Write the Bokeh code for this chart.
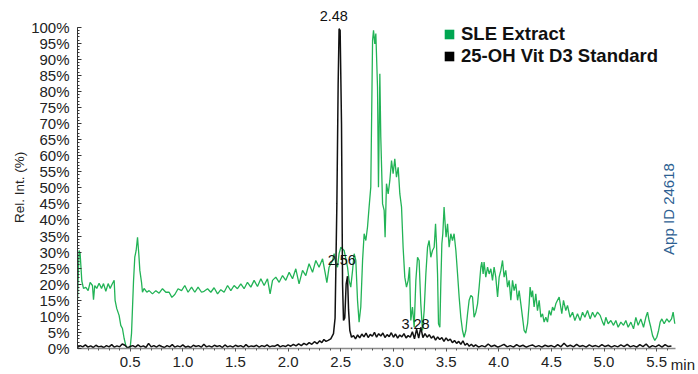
from bokeh.plotting import figure
from bokeh.models import FixedTicker, PrintfTickFormatter, Label, Legend, LegendItem, Range1d
from bokeh.embed import file_html
from bokeh.resources import INLINE

FONT = "Liberation Sans"

# SLE Extract trace (time in min, relative intensity in %)
green_t = [0.0, 0.015, 0.025, 0.041, 0.057, 0.079, 0.101, 0.120, 0.142, 0.152, 0.164, 0.183, 0.205,
           0.228, 0.247, 0.269, 0.291, 0.310, 0.332, 0.348, 0.357, 0.373, 0.395, 0.411, 0.427, 0.443,
           0.459, 0.475, 0.500, 0.513, 0.532, 0.544, 0.557, 0.570, 0.582, 0.592, 0.608, 0.617, 0.632,
           0.658, 0.680, 0.712, 0.744, 0.775, 0.807, 0.839, 0.870, 0.896, 0.924, 0.955, 0.988, 1.019,
           1.050, 1.083, 1.114, 1.145, 1.178, 1.202, 1.235, 1.266, 1.297, 1.330, 1.361, 1.392, 1.425,
           1.456, 1.487, 1.519, 1.551, 1.582, 1.614, 1.646, 1.677, 1.709, 1.741, 1.772, 1.804, 1.829,
           1.852, 1.883, 1.915, 1.947, 1.978, 2.010, 2.042, 2.073, 2.104, 2.137, 2.168, 2.199, 2.232,
           2.263, 2.294, 2.327, 2.351, 2.368, 2.389, 2.422, 2.437, 2.453, 2.469, 2.484, 2.501, 2.532,
           2.564, 2.579, 2.595, 2.612, 2.627, 2.643, 2.659, 2.674, 2.690, 2.707, 2.722, 2.738, 2.754,
           2.769, 2.785, 2.802, 2.811, 2.823, 2.833, 2.849, 2.858, 2.871, 2.880, 2.897, 2.912, 2.921,
           2.934, 2.950, 2.966, 2.982, 2.997, 3.013, 3.029, 3.045, 3.061, 3.077, 3.092, 3.108, 3.124,
           3.140, 3.153, 3.165, 3.181, 3.197, 3.213, 3.229, 3.244, 3.260, 3.276, 3.292, 3.308, 3.324,
           3.339, 3.355, 3.371, 3.387, 3.400, 3.409, 3.419, 3.428, 3.441, 3.450, 3.460, 3.469, 3.481,
           3.491, 3.500, 3.514, 3.529, 3.545, 3.561, 3.576, 3.593, 3.609, 3.624, 3.640, 3.656, 3.671,
           3.688, 3.704, 3.719, 3.735, 3.751, 3.766, 3.783, 3.799, 3.814, 3.830, 3.839, 3.852, 3.861,
           3.877, 3.894, 3.909, 3.925, 3.941, 3.956, 3.972, 3.989, 4.004, 4.020, 4.036, 4.051, 4.067,
           4.084, 4.099, 4.115, 4.131, 4.146, 4.162, 4.179, 4.194, 4.210, 4.226, 4.241, 4.257, 4.274,
           4.289, 4.298, 4.311, 4.321, 4.336, 4.352, 4.368, 4.384, 4.400, 4.416, 4.431, 4.447, 4.463,
           4.479, 4.495, 4.511, 4.526, 4.542, 4.558, 4.574, 4.599, 4.615, 4.637, 4.653, 4.678, 4.701,
           4.723, 4.748, 4.773, 4.796, 4.818, 4.843, 4.868, 4.891, 4.913, 4.938, 4.963, 4.986, 5.001,
           5.017, 5.039, 5.065, 5.090, 5.112, 5.134, 5.160, 5.185, 5.207, 5.229, 5.255, 5.280, 5.302,
           5.324, 5.349, 5.375, 5.397, 5.413, 5.428, 5.444, 5.461, 5.482, 5.501, 5.518, 5.533, 5.549,
           5.571, 5.596, 5.618, 5.641, 5.656, 5.672]
green_i = [15.0, 30.5, 29.5, 21.0, 18.7, 19.0, 18.0, 20.6, 19.6, 15.2, 19.6, 18.7, 20.3,
           18.7, 20.2, 17.8, 20.2, 18.7, 20.2, 21.2, 15.0, 12.4, 10.3, 7.2, 6.2, 3.1,
           0.9, 0.1, 0.1, 4.7, 21.0, 28.4, 30.5, 34.6, 29.5, 24.3, 20.6, 17.5, 18.7,
           17.5, 18.0, 17.0, 18.0, 17.2, 18.6, 17.5, 17.5, 15.9, 16.8, 18.6, 18.0, 19.6,
           17.5, 19.1, 17.5, 19.1, 17.5, 17.8, 18.6, 17.5, 18.9, 17.0, 18.3, 17.5, 19.6,
           18.0, 19.6, 18.6, 20.1, 18.6, 20.6, 19.1, 21.2, 19.3, 21.7, 19.6, 21.7, 17.0,
           21.2, 22.2, 20.6, 22.7, 21.2, 23.7, 21.7, 24.8, 20.1, 24.3, 22.7, 26.4, 23.7,
           27.4, 25.3, 27.9, 23.7, 20.5, 25.3, 27.4, 29.5, 26.4, 25.3, 29.5, 31.5, 30.5,
           25.3, 21.2, 19.1, 24.3, 29.5, 27.4, 15.0, 8.2, 12.9, 27.4, 35.7, 33.6, 37.8,
           44.0, 50.2, 95.9, 99.0, 94.8, 98.0, 81.3, 50.2, 85.5, 65.8, 45.0, 43.0, 34.6,
           51.3, 48.1, 52.3, 58.5, 54.4, 59.0, 53.3, 56.4, 48.1, 44.0, 31.5, 22.2, 19.1,
           21.2, 25.3, 8.7, 12.9, 6.6, 21.2, 28.4, 27.4, 13.9, 5.6, 11.8, 23.2, 31.5,
           33.6, 28.4, 30.5, 31.5, 38.8, 32.6, 23.2, 7.7, 6.6, 20.1, 32.6, 35.7, 44.0,
           38.8, 34.6, 38.8, 31.5, 35.7, 33.6, 35.7, 30.5, 23.2, 16.0, 9.7, 5.6, 3.5,
           5.6, 10.8, 15.0, 16.5, 16.0, 9.7, 11.3, 13.9, 19.1, 25.3, 26.9, 23.2, 26.9,
           22.2, 25.3, 23.2, 24.8, 21.2, 25.3, 22.2, 16.0, 22.2, 24.3, 27.4, 22.2, 24.3,
           19.1, 21.2, 15.0, 21.2, 18.0, 20.1, 15.0, 18.0, 13.9, 9.7, 5.6, 4.8, 7.7,
           13.9, 19.1, 16.0, 18.0, 12.9, 17.0, 11.8, 15.0, 9.7, 10.8, 8.2, 9.7, 8.2,
           11.8, 10.3, 12.9, 11.8, 13.9, 15.0, 16.0, 10.8, 15.0, 11.8, 13.4, 9.7, 11.3,
           8.7, 10.8, 8.7, 11.3, 9.7, 11.8, 9.2, 11.3, 9.7, 11.3, 10.3, 8.2, 7.2,
           9.7, 7.7, 8.7, 7.2, 8.7, 6.6, 8.2, 7.2, 8.7, 6.6, 8.2, 6.1, 9.7,
           7.2, 9.2, 6.6, 9.7, 11.3, 8.7, 6.6, 4.0, 2.5, 3.5, 5.6, 8.2, 9.2,
           7.7, 9.2, 8.2, 9.2, 11.3, 7.7]

# 25-OH Vit D3 Standard trace
black_t = [0.0, 0.025, 0.05, 0.075, 0.10, 0.125, 0.15, 0.175, 0.20, 0.225, 0.25, 0.275, 0.30,
           0.325, 0.35, 0.375, 0.40, 0.425, 0.45, 0.475, 0.50, 0.525, 0.55, 0.575, 0.60, 0.625,
           0.65, 0.675, 0.70, 0.725, 0.75, 0.775, 0.80, 0.825, 0.85, 0.875, 0.90, 0.925, 0.95,
           0.975, 1.00, 1.025, 1.05, 1.075, 1.10, 1.125, 1.15, 1.175, 1.20, 1.225, 1.25, 1.275,
           1.30, 1.325, 1.35, 1.375, 1.40, 1.425, 1.45, 1.475, 1.50, 1.525, 1.55, 1.575, 1.60,
           1.625, 1.65, 1.675, 1.70, 1.725, 1.75, 1.775, 1.80, 1.825, 1.85, 1.875, 1.90, 1.925,
           1.95, 1.975, 2.00, 2.025, 2.05, 2.075, 2.10, 2.125, 2.15, 2.175, 2.20, 2.225, 2.25,
           2.275, 2.30, 2.32, 2.34, 2.36, 2.38, 2.405, 2.431, 2.446, 2.463, 2.475, 2.484, 2.494,
           2.507, 2.517, 2.526, 2.538, 2.551, 2.564, 2.574, 2.586, 2.602, 2.621, 2.64, 2.66, 2.68,
           2.70, 2.72, 2.74, 2.76, 2.78, 2.80, 2.82, 2.84, 2.86, 2.88, 2.90, 2.92, 2.94, 2.96,
           2.98, 3.00, 3.02, 3.04, 3.06, 3.08, 3.10, 3.12, 3.14, 3.16, 3.18, 3.20, 3.22, 3.24,
           3.26, 3.28, 3.30, 3.32, 3.34, 3.36, 3.38, 3.40, 3.42, 3.44, 3.46, 3.48, 3.50, 3.52,
           3.54, 3.56, 3.58, 3.60, 3.62, 3.64, 3.66, 3.68, 3.70, 3.72, 3.74, 3.76, 3.78, 3.81,
           3.84, 3.87, 3.90, 3.93, 3.96, 3.99, 4.02, 4.05, 4.08, 4.11, 4.14, 4.17, 4.20, 4.23,
           4.26, 4.29, 4.32, 4.35, 4.38, 4.41, 4.44, 4.47, 4.50, 4.53, 4.56, 4.59, 4.62, 4.65,
           4.68, 4.71, 4.74, 4.77, 4.80, 4.83, 4.86, 4.89, 4.92, 4.95, 4.98, 5.01, 5.04, 5.07,
           5.10, 5.13, 5.16, 5.19, 5.22, 5.25, 5.28, 5.31, 5.34, 5.37, 5.40, 5.43, 5.46, 5.49,
           5.52, 5.55, 5.58, 5.61, 5.64, 5.67]
black_i = [0.3, 0.9, 0.5, 1.1, 0.4, 0.8, 0.3, 1.0, 0.5, 0.7, 0.3, 0.9, 0.5,
           1.2, 0.4, 0.8, 0.5, 1.4, 1.0, 0.2, 0.6, 0.9, 0.4, 1.1, 0.5, 0.8,
           0.3, 1.6, 0.5, 0.9, 0.4, 1.0, 0.6, 0.3, 0.9, 0.5, 1.2, 0.4, 0.8,
           0.5, 1.1, 0.4, 0.7, 0.3, 1.0, 0.6, 0.9, 0.4, 1.3, 0.5, 0.8, 0.4,
           1.0, 0.6, 0.9, 0.3, 1.1, 0.5, 0.8, 0.4, 1.0, 0.6, 0.9, 0.4, 1.2,
           0.5, 0.8, 0.6, 1.0, 0.4, 0.9, 0.6, 1.1, 0.5, 0.8, 0.7, 1.2, 0.5,
           0.9, 0.6, 1.1, 0.7, 1.3, 0.8, 1.4, 0.9, 1.6, 1.1, 1.8, 1.3, 2.1,
           1.5, 2.4, 1.8, 2.8, 2.2, 2.5, 3.0, 4.6, 9.5, 45.0, 82.0, 99.5,
           99.0, 70.0, 20.0, 8.7, 9.5, 20.0, 22.5, 12.0, 5.6, 3.5, 4.0, 3.0, 4.2,
           3.3, 4.5, 3.6, 4.8, 3.4, 4.4, 3.8, 5.0, 3.5, 4.6, 3.9, 4.8, 3.4, 4.3,
           3.7, 4.9, 3.5, 4.5, 3.2, 4.2, 3.6, 4.6, 3.3, 4.0, 3.5, 5.2, 3.0, 6.0,
           3.2, 6.6, 3.4, 4.6, 3.5, 4.3, 3.2, 3.9, 2.6, 3.6, 2.8, 3.4, 2.2, 3.3,
           2.4, 2.9, 1.8, 2.5, 1.6, 2.2, 1.3, 2.4, 1.0, 1.6, 0.7, 1.3, 0.6, 1.1,
           0.4, 0.9, 0.5, 1.4, 0.6, 1.0, 0.4, 0.8, 1.3, 0.5, 0.9, 0.4, 1.2, 0.6,
           1.0, 0.4, 0.8, 1.1, 0.5, 0.9, 0.4, 1.0, 0.6, 0.9, 0.4, 1.2, 0.5, 1.6,
           0.6, 1.0, 0.5, 1.3, 0.6, 0.9, 0.4, 1.1, 0.6, 0.9, 0.5, 1.2, 0.6, 1.0,
           0.4, 0.9, 0.5, 1.1, 0.6, 1.3, 0.5, 0.9, 0.4, 1.2, 0.6, 1.4, 0.3, 0.9,
           0.5, 1.1, 0.4, 1.2, 0.6, 0.8]

series_labels = ["SLE Extract", "25-OH Vit D3 Standard"]
series_colors = ["#00a651", "#000000"]
peak_labels = ["2.48", "2.56", "3.28"]
peak_label_t = [2.434, 2.510, 3.210]
peak_label_i = [103.6, 27.4, 7.5]

x_major = [0.5, 1.0, 1.5, 2.0, 2.5, 3.0, 3.5, 4.0, 4.5, 5.0, 5.5]
x_minor = [round(0.1 * k, 1) for k in range(1, 57)]
y_major = list(range(0, 101, 5))
y_minor = list(range(0, 101))

# The frame covers the whole canvas right of the y axis; the x axis is pinned at 0 %
# and both axis lines are limited with bounds, so annotations outside the axes are not clipped.
p = figure(width=698, height=374, output_backend="svg", toolbar_location=None,
           x_range=Range1d(0, 5.897), y_range=Range1d(-8.1, 108.3),
           min_border_left=77, min_border_right=0, min_border_top=0, min_border_bottom=0)
p.outline_line_color = None
p.grid.visible = False

p.line(green_t, green_i, line_color="#22b356", line_width=1.3)
p.line(black_t, black_i, line_color="#111111", line_width=1.5)

# axes
xa = p.xaxis[0]
xa.fixed_location = 0
xa.bounds = (0, 5.68)
xa.ticker = FixedTicker(ticks=x_major, minor_ticks=x_minor)
xa.formatter = PrintfTickFormatter(format="%.1f")
xa.axis_line_color = "#8a8a8a"
xa.axis_line_width = 1.5
xa.major_tick_line_color = "#555555"
xa.minor_tick_line_color = "#555555"
xa.major_tick_out = 3
xa.major_tick_in = 0
xa.minor_tick_out = 2
xa.minor_tick_in = 0
xa.major_label_standoff = 6
xa.major_label_text_font = FONT
xa.major_label_text_font_size = "15px"
xa.major_label_text_color = "#222222"

ya = p.yaxis[0]
ya.bounds = (0, 100)
ya.ticker = FixedTicker(ticks=y_major, minor_ticks=y_minor)
ya.formatter = PrintfTickFormatter(format="%d%%")
ya.axis_line_color = "#333333"
ya.major_tick_line_color = "#333333"
ya.minor_tick_line_color = "#333333"
ya.major_tick_in = 4
ya.major_tick_out = 0
ya.minor_tick_in = 2
ya.minor_tick_out = 0
ya.major_label_standoff = 8
ya.major_label_text_font = FONT
ya.major_label_text_font_size = "15px"
ya.major_label_text_color = "#222222"
ya.axis_label = "Rel. Int. (%)"
ya.axis_label_text_font = FONT
ya.axis_label_text_font_size = "13.5px"
ya.axis_label_text_font_style = "normal"
ya.axis_label_text_color = "#222222"
ya.axis_label_standoff = 1

# legend with square swatches (swatch-only renderers hold a single empty NaN quad)
nan = float("nan")
r1 = p.quad(left=[nan], right=[nan], top=[nan], bottom=[nan], fill_color=series_colors[0], line_color=None)
r2 = p.quad(left=[nan], right=[nan], top=[nan], bottom=[nan], fill_color=series_colors[1], line_color=None)
legend = Legend(items=[LegendItem(label=series_labels[0], renderers=[r1], index=0),
                       LegendItem(label=series_labels[1], renderers=[r2], index=0)],
                location=(366, 307), orientation="vertical",
                glyph_width=12, glyph_height=12, label_standoff=6, spacing=0,
                padding=0, margin=0, border_line_color=None, background_fill_alpha=0,
                label_text_font=FONT, label_text_font_size="18.5px",
                label_text_font_style="bold", label_height=21, label_text_color="#111111")
p.add_layout(legend)

for txt, t, i in zip(peak_labels, peak_label_t, peak_label_i):
    p.add_layout(Label(x=t, y=i, text=txt, text_align="center", text_baseline="middle",
                       text_font=FONT, text_font_size="14.5px", text_color="#111111"))

p.add_layout(Label(x=5.61, y=43.4, text="App ID 24618", angle=90, angle_units="deg",
                   text_align="center", text_baseline="middle", text_font=FONT,
                   text_font_size="15px", text_color="#2e5f92"))
p.add_layout(Label(x=5.634, y=-5.0, text="min", text_align="left", text_baseline="middle",
                   text_font=FONT, text_font_size="15px", text_color="#222222"))

open("out.html", "w").write(file_html(p, INLINE))
